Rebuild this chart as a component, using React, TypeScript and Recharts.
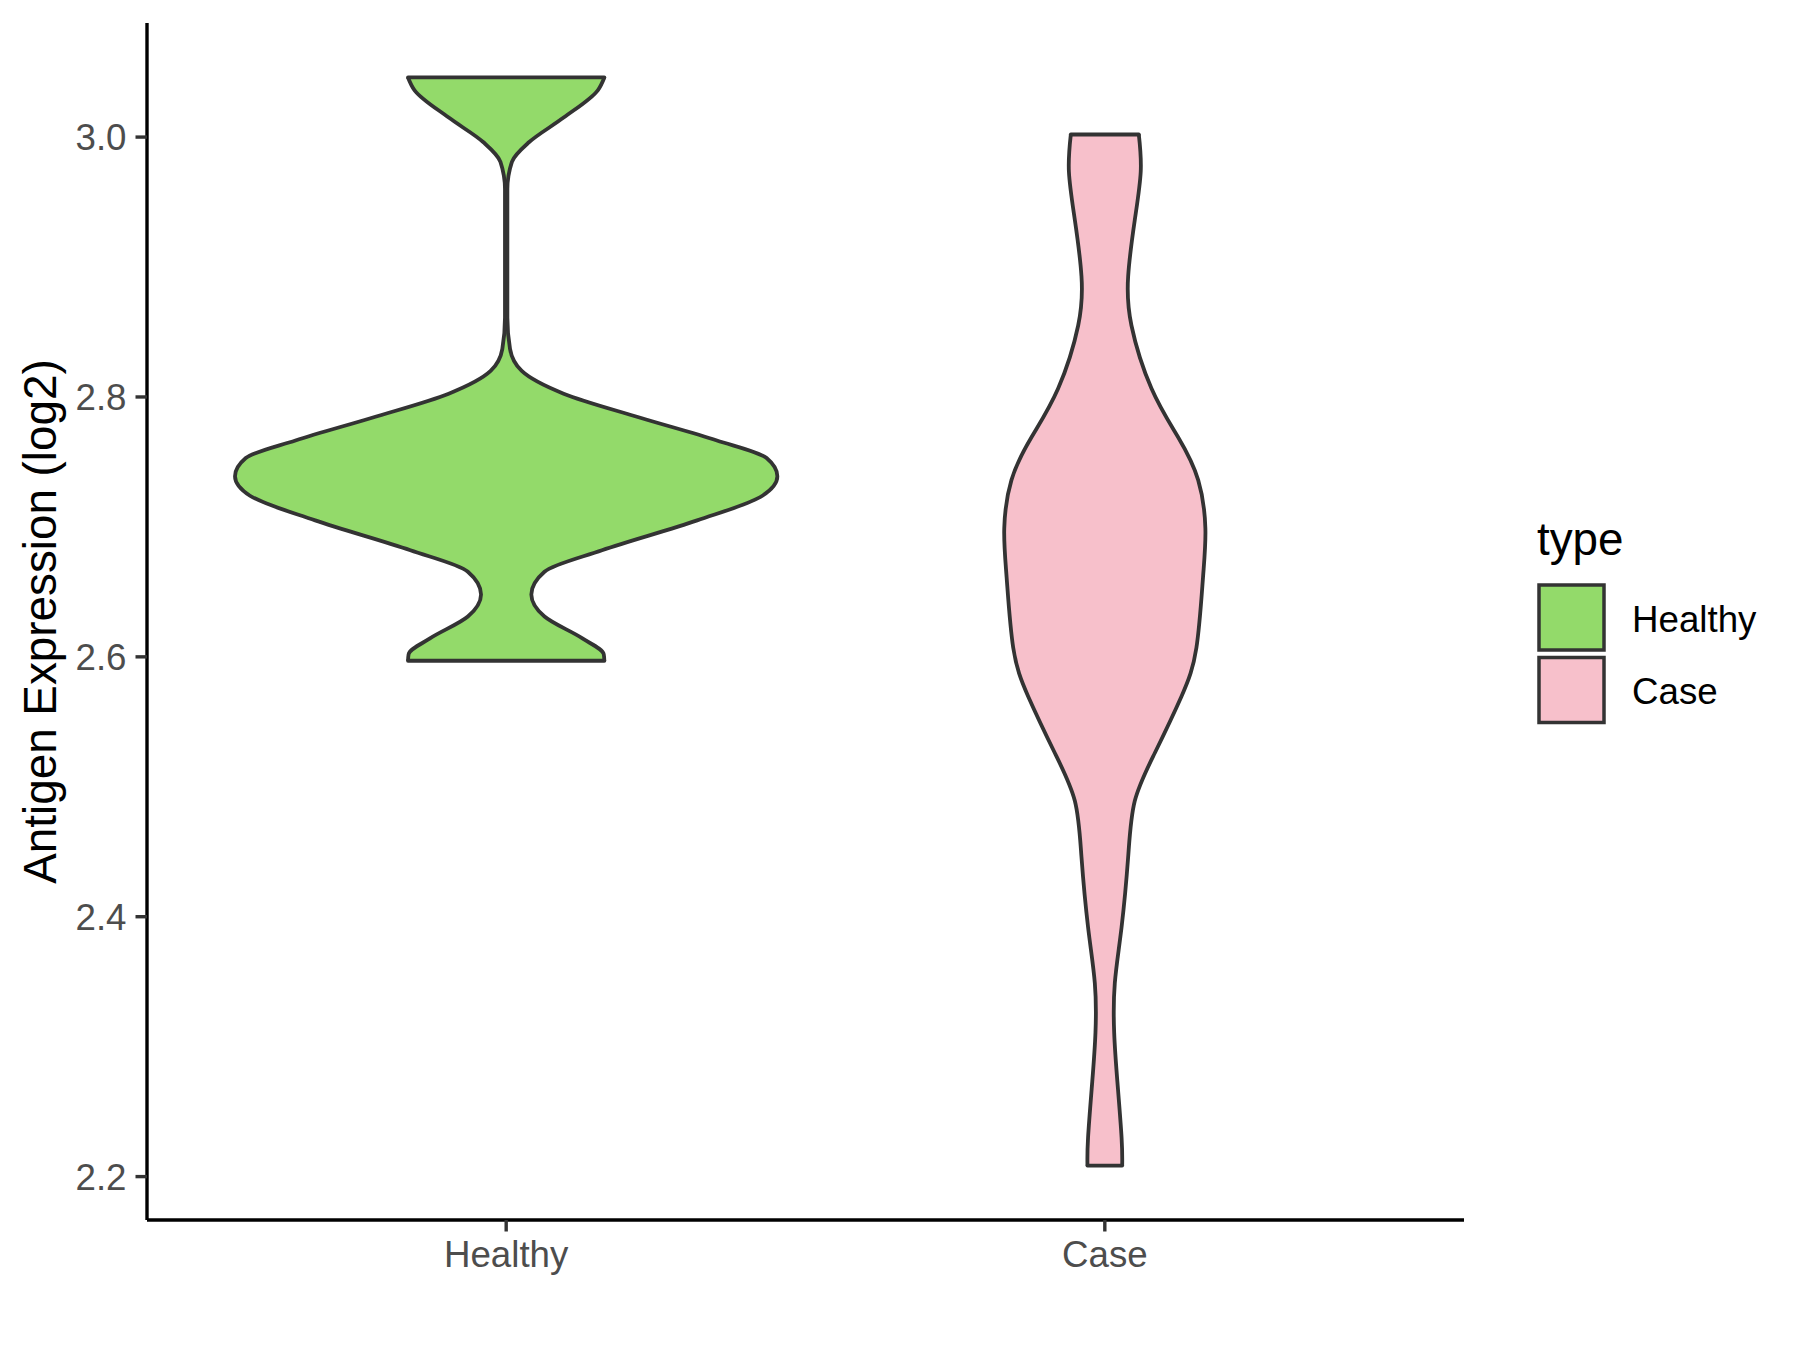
import { ComposedChart, Area, XAxis, YAxis, ReferenceLine } from 'recharts';

const FONT = '"Liberation Sans", Arial, sans-serif';

const groups = ['Healthy', 'Case'];
const groupColors = ['#93DA6A', '#F7C0CB'];
const yTicks = [2.2, 2.4, 2.6, 2.8, 3.0];

// expression level (log2) and half-width of the violin at that level
const healthyLevels = [2.597, 2.602, 2.614, 2.631, 2.648, 2.6655, 2.682, 2.705, 2.724, 2.739, 2.753, 2.7665, 2.784, 2.8025, 2.82, 2.837, 2.861, 2.96, 2.981, 2.996, 3.015, 3.036, 3.0459];
const healthyWidths = [0.164, 0.163, 0.128, 0.064, 0.042, 0.064, 0.16, 0.319, 0.428, 0.453, 0.435, 0.352, 0.224, 0.096, 0.026, 0.0064, 0.002, 0.002, 0.0096, 0.038, 0.096, 0.153, 0.164];

const caseLevels = [2.2085, 2.23, 2.273, 2.311, 2.349, 2.392, 2.446, 2.489, 2.526, 2.5695, 2.607, 2.661, 2.6987, 2.736, 2.769, 2.8065, 2.855, 2.893, 2.936, 2.9735, 3.002];
const caseWidths = [0.029, 0.028, 0.021, 0.0156, 0.0167, 0.028, 0.039, 0.05, 0.0835, 0.128, 0.153, 0.164, 0.168, 0.156, 0.1225, 0.078, 0.0445, 0.039, 0.05, 0.06, 0.0568];

const violins = [
  { levels: healthyLevels, widths: healthyWidths, curve: 'monotone' },
  { levels: caseLevels, widths: caseWidths, curve: 'natural' },
];

const buildRows = (levels: number[], widths: number[], pos: number) =>
  levels.map((v, i) => ({ v, range: [pos - widths[i], pos + widths[i]] }));

const AxisTitle = (props: any) => {
  const { viewBox } = props;
  const cx = 56;
  const cy = viewBox.y + viewBox.height / 2;
  return (
    <text x={cx} y={cy} transform={`rotate(-90 ${cx} ${cy})`} textAnchor="middle"
      fontSize={45.8} fontFamily={FONT} fill="#000000">
      Antigen Expression (log2)
    </text>
  );
};

export default function App() {
  return (
    <div style={{ position: 'absolute', left: 0, top: 0, width: 1800, height: 1350, background: '#ffffff' }}>
      <ComposedChart width={1800} height={1350} layout="vertical"
        margin={{ top: 23, right: 336, bottom: 0, left: 0 }}>
        <XAxis type="number" dataKey="range" domain={[0.4, 2.6]} ticks={[1, 2]} allowDataOverflow
          tickFormatter={(t: number) => groups[t - 1]} height={130}
          axisLine={{ stroke: '#000000', strokeWidth: 3.4 }}
          tickLine={{ stroke: '#333333', strokeWidth: 3.4 }} tickSize={11.5} tickMargin={9}
          tick={{ fill: '#4D4D4D', fontSize: 36.7, fontFamily: FONT }} />
        <YAxis type="number" dataKey="v" domain={[2.1666, 3.0878]} ticks={yTicks} allowDataOverflow reversed
          tickFormatter={(t: number) => t.toFixed(1)} width={147}
          axisLine={{ stroke: '#000000', strokeWidth: 3.4 }}
          tickLine={{ stroke: '#333333', strokeWidth: 3.4 }} tickSize={11.5} tickMargin={9}
          tick={{ fill: '#4D4D4D', fontSize: 36.7, fontFamily: FONT }}
          label={{ value: 'Antigen Expression (log2)', content: AxisTitle }} />
        {violins.map((g, i) => (
          <Area key={groups[i]} data={buildRows(g.levels, g.widths, i + 1)} dataKey="range"
            type={g.curve as any} stroke="#333333" strokeWidth={3.8} fill={groupColors[i]} fillOpacity={1}
            dot={false} activeDot={false} isAnimationActive={false} />
        ))}
        {violins.map((g, i) => {
          const n = g.levels.length - 1;
          return [0, n].map((k) => (
            <ReferenceLine key={`${groups[i]}-${k}`} ifOverflow="visible" stroke="#333333" strokeWidth={3.8}
              strokeLinecap="round"
              segment={[{ x: i + 1 - g.widths[k], y: g.levels[k] }, { x: i + 1 + g.widths[k], y: g.levels[k] }]} />
          ));
        })}
      </ComposedChart>
      <svg width={300} height={300} style={{ position: 'absolute', left: 1500, top: 500 }}>
        <text x={37} y={55} fontSize={45.8} fontFamily={FONT} fill="#000000">type</text>
        {groups.map((name, i) => (
          <g key={name}>
            <rect x={39} y={85 + i * 72.5} width={65} height={65} fill={groupColors[i]}
              stroke="#333333" strokeWidth={3.5} />
            <text x={132} y={131.5 + i * 72.5} fontSize={36.7} fontFamily={FONT} fill="#000000">{name}</text>
          </g>
        ))}
      </svg>
    </div>
  );
}
